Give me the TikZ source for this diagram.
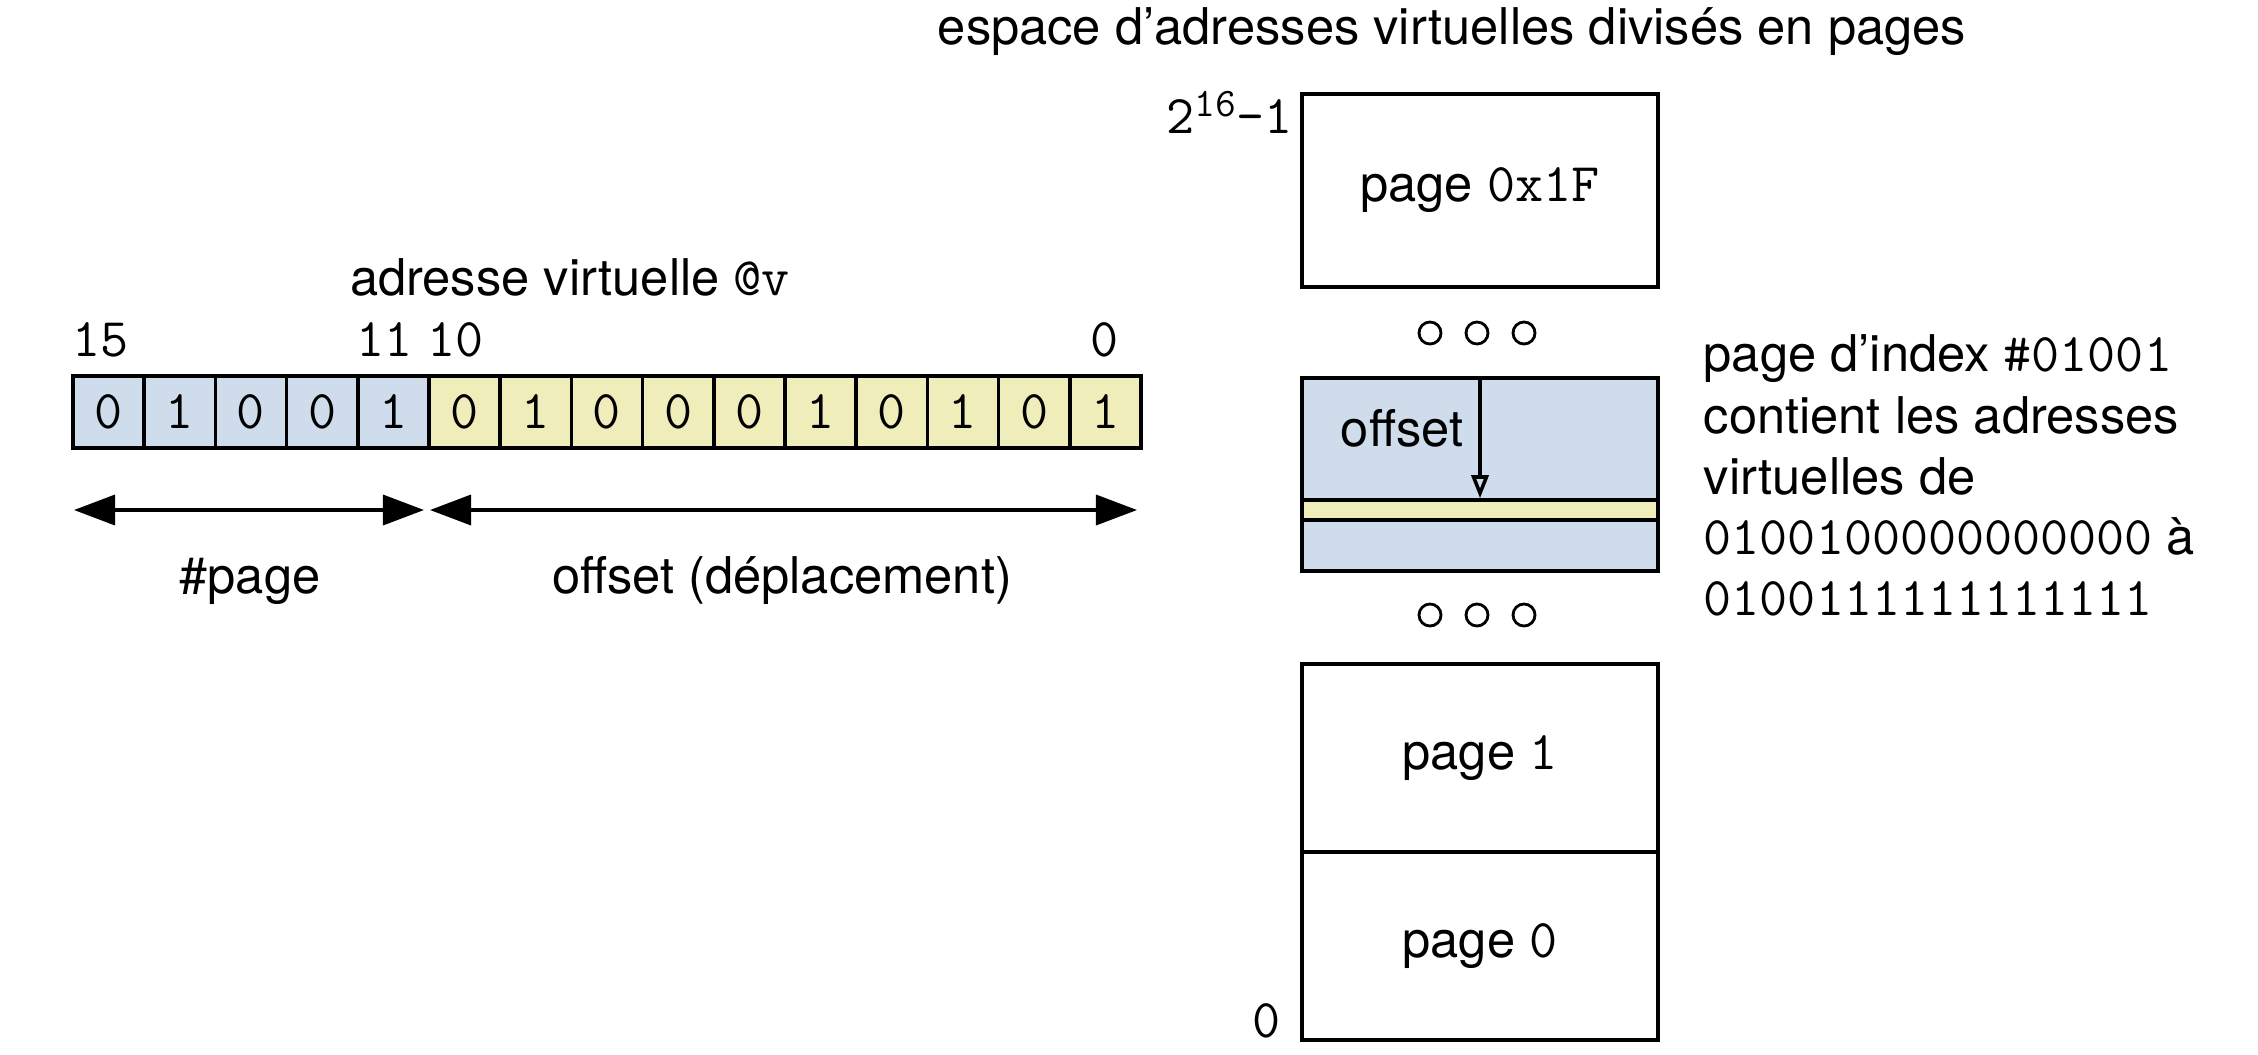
\documentclass[tikz,border=0pt]{standalone}
\usepackage{fontspec}
\setmainfont{TeX Gyre Heros}
\usepackage{xcolor}
\usetikzlibrary{arrows.meta}
\definecolor{pblue}{HTML}{CFDCEB}
\definecolor{pyellow}{HTML}{EFEDBA}
\newcommand{\tcode}[1]{{\ttfamily\fontsize{15.5}{18}\selectfont #1}}
\newcommand{\tsup}[1]{\raisebox{4.8pt}{\ttfamily\fontsize{11.5}{12}\selectfont #1}}
\tikzset{
	bit/.style={draw, line width=1pt, minimum width=0.712cm, minimum height=0.72cm, inner sep=0pt},
	pagebox/.style={draw, line width=1pt, minimum width=3.56cm, inner sep=0pt},
	lbl/.style={inner sep=0pt},
	dblarrow/.style={line width=1pt, {Triangle[length=0.41cm,width=0.3cm]}-{Triangle[length=0.41cm,width=0.3cm]}},
	dots/.style={line width=0.8pt}
}

\begin{document}
\begin{tikzpicture}[x=0.01cm, y=-0.01cm, font=\fontsize{14.4}{17}\selectfont]
		\useasboundingbox (0,0) rectangle (2258,1054);
		% virtual address, bits 15..0
		\node[lbl, anchor=base] (atitle) at (570,295) {adresse virtuelle \tcode{@v}};
		\node[bit, fill=pblue] (b15) at (108.6,412) {\tcode{0}};
		\node[bit, fill=pblue] (b14) at (179.8,412) {\tcode{1}};
		\node[bit, fill=pblue] (b13) at (251.0,412) {\tcode{0}};
		\node[bit, fill=pblue] (b12) at (322.2,412) {\tcode{0}};
		\node[bit, fill=pblue] (b11) at (393.4,412) {\tcode{1}};
		\node[bit, fill=pyellow] (b10) at (464.6,412) {\tcode{0}};
		\node[bit, fill=pyellow] (b9) at (535.8,412) {\tcode{1}};
		\node[bit, fill=pyellow] (b8) at (607.0,412) {\tcode{0}};
		\node[bit, fill=pyellow] (b7) at (678.2,412) {\tcode{0}};
		\node[bit, fill=pyellow] (b6) at (749.4,412) {\tcode{0}};
		\node[bit, fill=pyellow] (b5) at (820.6,412) {\tcode{1}};
		\node[bit, fill=pyellow] (b4) at (891.8,412) {\tcode{0}};
		\node[bit, fill=pyellow] (b3) at (963.0,412) {\tcode{1}};
		\node[bit, fill=pyellow] (b2) at (1034.2,412) {\tcode{0}};
		\node[bit, fill=pyellow] (b1) at (1105.4,412) {\tcode{1}};
		\node[lbl, anchor=base west] (l15) at (72,356) {\tcode{15}};
		\node[lbl, anchor=base west] (l11) at (356,356) {\tcode{11}};
		\node[lbl, anchor=base west] (l10) at (427,356) {\tcode{10}};
		\node[lbl, anchor=base west] (l0) at (1090,356) {\tcode{0}};
		\coordinate (pgl) at (74,510);
		\coordinate (pgr) at (424,510);
		\coordinate (ofl) at (430,510);
		\coordinate (ofr) at (1137,510);
		\draw[dblarrow] (pgl) -- (pgr);
		\draw[dblarrow] (ofl) -- (ofr);
		\node[lbl, anchor=base] (npage) at (250,593) {\#page};
		\node[lbl, anchor=base] (noff) at (782,593) {offset (déplacement)};
		% virtual address space
		\node[lbl, anchor=base] (vtitle) at (1452,44) {espace d’adresses virtuelles divisés en pages};
		\node[pagebox, minimum height=1.93cm] (p1F) at (1480,190.5) {page \tcode{0x1F}};
		\node[lbl, anchor=base east] (ltop) at (1293,133) {\tcode{2\tsup{16}-1}};
		\draw[dots] (1430,333) circle (0.11cm);
		\draw[dots] (1477,333) circle (0.11cm);
		\draw[dots] (1524,333) circle (0.11cm);
		\node[pagebox, minimum height=1.93cm, fill=pblue] (pidx) at (1480,474.5) {};
		\node[pagebox, minimum height=0.2cm, fill=pyellow] (band) at (1480,510) {};
		\draw[line width=1pt, -{Triangle[open,length=0.23cm,width=0.17cm]}] (pidx.north) -- (band.north);
		\node[lbl, anchor=base] (poff) at (1402,446) {offset};
		\draw[dots] (1430,615) circle (0.11cm);
		\draw[dots] (1477,615) circle (0.11cm);
		\draw[dots] (1524,615) circle (0.11cm);
		\node[pagebox, minimum height=1.88cm] (p1) at (1480,758) {page \tcode{1}};
		\node[pagebox, minimum height=1.88cm] (p0) at (1480,946) {page \tcode{0}};
		\node[lbl, anchor=base east] (lbot) at (1281,1037) {\tcode{0}};
		% index page note
		\node[lbl, anchor=base west] (r1) at (1703,371) {page d’index \tcode{\#01001}};
		\node[lbl, anchor=base west] (r2) at (1703,433) {contient les adresses};
		\node[lbl, anchor=base west] (r3) at (1703,494) {virtuelles de};
		\node[lbl, anchor=base west] (r4) at (1703,554) {\tcode{0100100000000000} à};
		\node[lbl, anchor=base west] (r5) at (1703,615) {\tcode{0100111111111111}};
	\end{tikzpicture}
\end{document}
